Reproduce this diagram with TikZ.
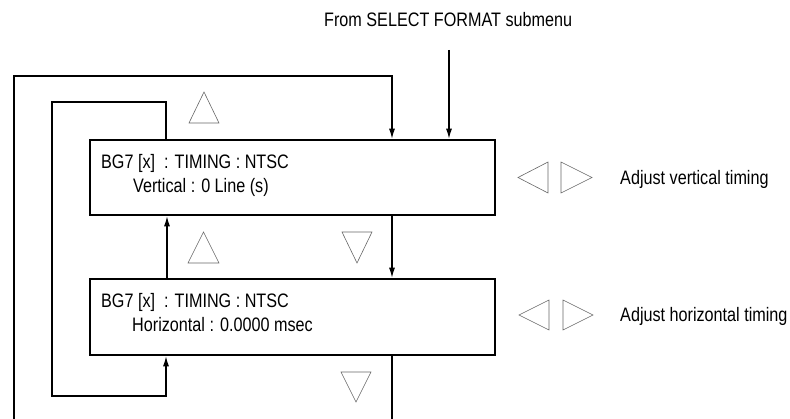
\documentclass[tikz,border=0pt]{standalone}
\usepackage{fontspec}
\setmainfont{Liberation Sans}[FakeStretch=0.83]
\usetikzlibrary{arrows.meta}
\begin{document}
\begin{tikzpicture}[x=1pt,y=-1pt,
  box/.style={draw, line width=2.6pt, rectangle, minimum width=405pt, inner sep=0pt},
  conn/.style={line width=1.1pt, line join=miter},
  arr/.style={conn, -{Latex[length=10pt,width=6pt]}},
  tri/.style={draw=black!60, line width=0.6pt, line join=miter},
  lbl/.style={inner sep=0pt, anchor=base west, font=\fontsize{19.5}{23}\selectfont}]
\useasboundingbox (0,0) rectangle (790,419);
% boxes
\node[box, minimum height=75pt] (b1) at (292.5,177.5) {};
\node[box, minimum height=76pt] (b2) at (292.5,317) {};
% texts
\node[lbl] (from) at (324,27) {From SELECT FORMAT submenu};
\node[lbl] (t1a) at (101,169) {BG7 [x]\ \ : TIMING : NTSC};
\node[lbl] (t1b) at (133,193) {Vertical : 0 Line (s)};
\node[lbl] (t2a) at (101,308) {BG7 [x]\ \ : TIMING : NTSC};
\node[lbl] (t2b) at (132,332) {Horizontal : 0.0000 msec};
\node[lbl] (adjv) at (620,185) {Adjust vertical timing};
\node[lbl] (adjh) at (620,322) {Adjust horizontal timing};
% coordinates
\coordinate (top) at (449,50);
\coordinate (ol) at (14,419);
\coordinate (oc1) at (14,76);
\coordinate (oc2) at (392,76);
\coordinate (ob) at (392,419);
\coordinate (i1) at (166,102);
\coordinate (i2) at (52,102);
\coordinate (i3) at (52,396);
\coordinate (i4) at (166,396);
\coordinate (u) at (167,0);
% connectors
\draw[arr] (top) -- (top |- b1.north);
\draw[arr] (ol) -- (oc1) -- (oc2) -- (oc2 |- b1.north);
\draw[arr] (ob |- b1.south) -- (ob |- b2.north);
\draw[conn] (ob |- b2.south) -- (ob);
\draw[arr] (i1 |- b1.north) -- (i1) -- (i2) -- (i3) -- (i4) -- (i4 |- b2.south);
\draw[arr] (u |- b2.north) -- (u |- b1.south);
% key symbols
\draw[tri] (189,123) -- (204,92) -- (219,123) -- cycle;
\draw[tri] (188,263) -- (203.5,232) -- (219,263) -- cycle;
\draw[tri] (342,232) -- (357,263) -- (372,232) -- cycle;
\draw[tri] (341,372) -- (356,402) -- (371,372) -- cycle;
\draw[tri] (548,162) -- (518,177.5) -- (548,193) -- cycle;
\draw[tri] (561,162) -- (592,177.5) -- (561,193) -- cycle;
\draw[tri] (549,300) -- (519,315) -- (549,330) -- cycle;
\draw[tri] (563,300) -- (593,315) -- (563,330) -- cycle;
\end{tikzpicture}
\end{document}
